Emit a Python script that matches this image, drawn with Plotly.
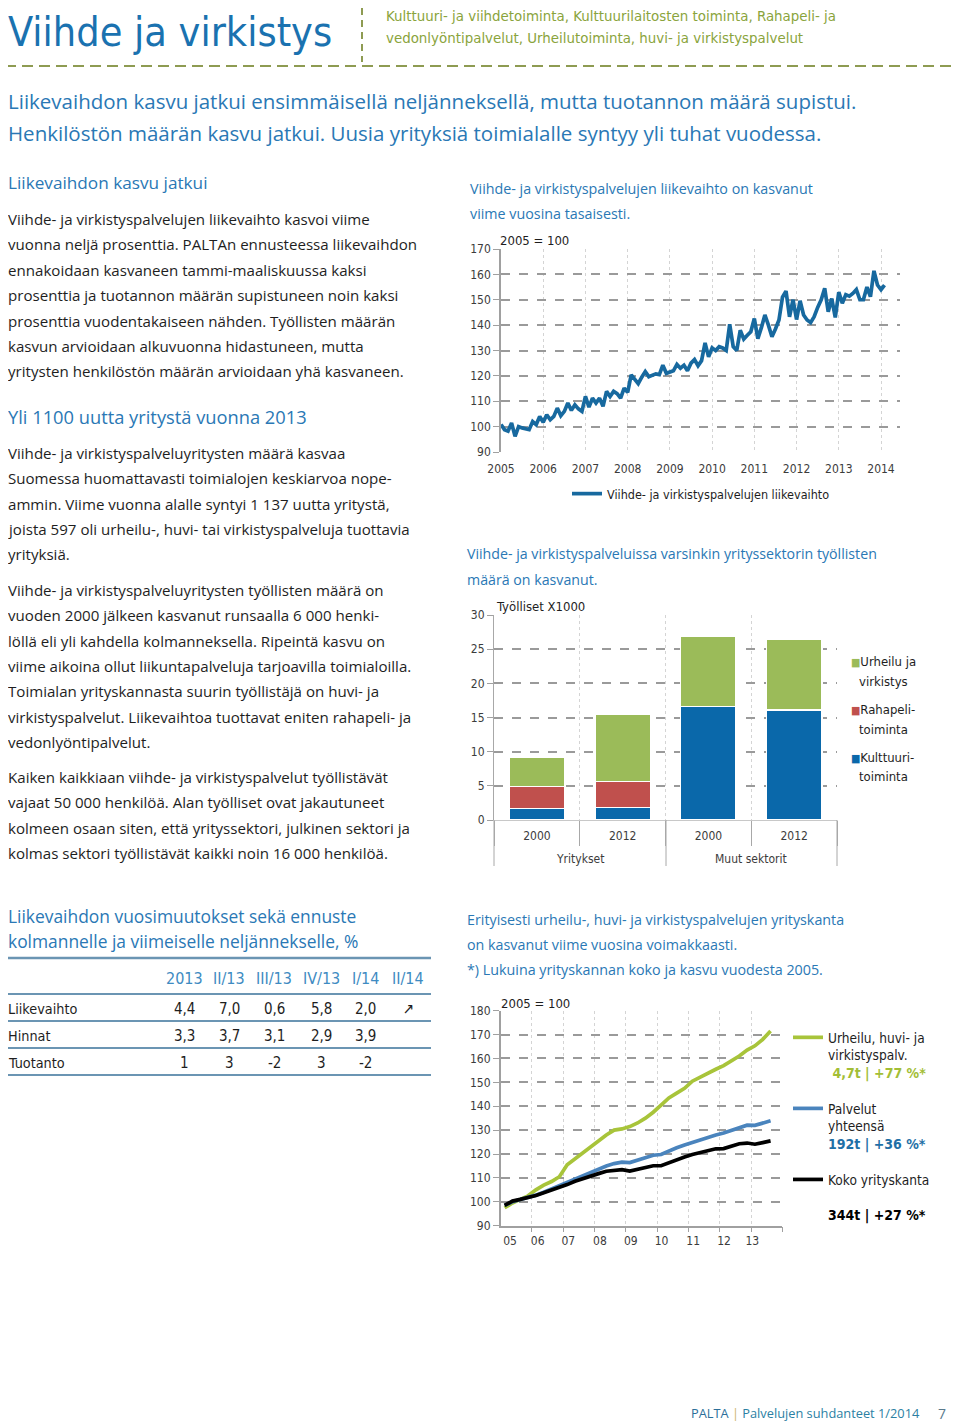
import plotly.graph_objects as go

W, H = 960, 1426
OX, OY = 8, 8  # page offset of the figure inside the browser window

# ---------------- Chart 1: monthly turnover index (2005 = 100) ----------------
lv_2005 = [100.8, 98.8, 98.2, 101.4, 96.2, 100.0, 99.5, 99.0, 98.8, 102.0, 100.8, 104.0]
lv_2006 = [101.7, 104.7, 102.7, 104.0, 107.3, 104.3, 106.0, 109.3, 106.4, 108.6, 107.0, 106.0]
lv_2007 = [111.9, 107.7, 111.2, 109.3, 111.2, 108.0, 113.9, 111.9, 113.9, 113.0, 111.2, 115.2]
lv_2008 = [113.5, 120.4, 118.5, 116.9, 119.5, 121.7, 119.7, 120.3, 120.8, 120.5, 124.2, 121.0]
lv_2009 = [121.5, 122.0, 124.5, 123.0, 124.2, 122.0, 125.0, 126.4, 124.0, 126.0, 133.0, 127.5]
lv_2010 = [131.0, 130.0, 131.5, 131.0, 130.0, 140.3, 131.5, 130.0, 138.0, 134.5, 136.0, 137.4]
lv_2011 = [142.6, 134.7, 139.0, 144.0, 140.0, 135.4, 138.5, 142.0, 151.0, 153.4, 143.3, 150.0]
lv_2012 = [142.2, 149.6, 144.0, 142.0, 141.0, 143.3, 147.0, 150.0, 154.5, 145.3, 150.5, 143.0]
lv_2013 = [153.0, 148.6, 152.0, 151.4, 152.5, 154.0, 150.0, 150.0, 155.0, 151.2, 161.4, 155.8]
lv_2014 = [154.0, 155.8]
liikevaihto = lv_2005 + lv_2006 + lv_2007 + lv_2008 + lv_2009 + lv_2010 + lv_2011 + lv_2012 + lv_2013 + lv_2014
years1 = list(range(2005, 2015))
x1 = [2005 + i / 12 for i in range(len(liikevaihto))]

# ---------------- Chart 2: employed persons x1000 ----------------
sectors = ["Yritykset", "Yritykset", "Muut sektorit", "Muut sektorit"]
bar_years = ["2000", "2012", "2000", "2012"]
kulttuuri = [1.7, 1.8, 16.6, 16.1]
rahapeli = [3.2, 3.8, 0.0, 0.0]
urheilu = [4.3, 9.9, 10.3, 10.3]
bar_cats = [f"{s} {y}" for s, y in zip(sectors, bar_years)]

# ---------------- Chart 3: number of enterprises (2005 = 100), quarterly ----------------
urheilu_idx = [97.5, 99.5, 101.0, 102.5, 105.0, 107.0, 108.5, 110.5, 115.5, 118.0, 120.5, 123.0,
               125.5, 128.0, 130.0, 130.5, 131.5, 133.0, 135.0, 137.5, 140.5, 143.5, 145.5, 147.5,
               150.5, 152.3, 153.8, 155.5, 157.0, 158.8, 161.0, 163.5, 165.3, 168.0, 171.5]
palvelut_idx = [98.5, 100.0, 101.0, 101.8, 102.8, 104.0, 105.4, 106.6, 108.1, 109.6, 110.9, 112.0,
                113.4, 115.0, 116.0, 116.6, 116.4, 117.3, 118.3, 119.5, 119.8, 121.3, 122.6, 123.8,
                124.9, 126.0, 127.1, 128.0, 128.8, 129.8, 131.0, 132.1, 132.0, 133.0, 133.9]
koko_idx = [98.5, 100.3, 101.0, 101.7, 102.6, 103.8, 104.9, 106.0, 107.2, 108.6, 109.8, 110.7,
            111.8, 112.8, 113.3, 113.5, 112.9, 113.6, 114.4, 115.1, 115.1, 116.4, 117.6, 118.8,
            119.8, 120.6, 121.5, 122.2, 122.3, 123.3, 124.3, 124.6, 124.1, 124.8, 125.5]
x3 = [2005.125 + 0.25 * i for i in range(len(urheilu_idx))]
x3_labels = ["05", "06", "07", "08", "09", "10", "11", "12", "13"]

# ---------------- Table ----------------
tab_cols = ["2013", "II/13", "III/13", "IV/13", "I/14", "II/14"]
tab_rows = ["Liikevaihto", "Hinnat", "Tuotanto"]
tab_liikevaihto = ["4,4", "7,0", "0,6", "5,8", "2,0", "↗"]
tab_hinnat = ["3,3", "3,7", "3,1", "2,9", "3,9", ""]
tab_tuotanto = ["1", "3", "-2", "3", "-2", ""]
tab_values = [tab_liikevaihto, tab_hinnat, tab_tuotanto]

# ---------------- styles ----------------
BODY = "'Open Sans', sans-serif"
COND = "'DejaVu Sans Condensed', 'Open Sans', sans-serif"
BLUE_T = "#2a78b5"
TXT = "#1e1e1e"
OLIVE = "#8e9b52"
C_LINE1 = "#17699f"
C_BLUE = "#0a68aa"
C_GREEN = "#9bbb59"
C_RED = "#c0504d"
C_G3 = "#a8c43a"
C_B3 = "#4a84bd"
TICK = dict(size=12, color="#3c3c3c", family=COND)
LX = 6  # left column text anchor


def dx(px):
    return (px - OX) / W


def dy(py):
    return 1 - (py - OY) / H


fig = go.Figure()

# Chart 1
fig.add_trace(go.Scatter(x=x1, y=liikevaihto, mode="lines", name="Viihde- ja virkistyspalvelujen liikevaihto",
                         line=dict(color=C_LINE1, width=3.7), xaxis="x", yaxis="y", legend="legend"))

# Chart 2
for vals, col, nm in [(kulttuuri, C_BLUE, "Kulttuuritoiminta"), (rahapeli, C_RED, "Rahapelitoiminta"),
                      (urheilu, C_GREEN, "Urheilu ja virkistys")]:
    fig.add_trace(go.Bar(x=bar_cats, y=vals, name=nm,
                         marker=dict(color=col, line=dict(color="white", width=1.5)),
                         width=0.65, xaxis="x2", yaxis="y2", showlegend=False))

# Chart 3
ST = "font-size:14px"
fig.add_trace(go.Scatter(x=x3, y=urheilu_idx, mode="lines", line=dict(color=C_G3, width=3.7), xaxis="x3", yaxis="y3",
                         legend="legend3", legendgroup="a",
                         name=f"Urheilu, huvi- ja<br>virkistyspalv.<br><span style='{ST};color:#a3be36'><b>\u00a04,7t | +77 %*</b></span>"))
fig.add_trace(go.Scatter(x=x3, y=palvelut_idx, mode="lines", line=dict(color=C_B3, width=3.7), xaxis="x3", yaxis="y3",
                         legend="legend3", legendgroup="b",
                         name=f"Palvelut<br>yhteensä<br><span style='{ST};color:#1f70a6'><b>192t | +36 %*</b></span>"))
fig.add_trace(go.Scatter(x=x3, y=koko_idx, mode="lines", line=dict(color="#000000", width=3.7), xaxis="x3", yaxis="y3",
                         legend="legend3", legendgroup="c",
                         name=f"Koko yrityskanta<br><span style='{ST}'>\u00a0</span><br><span style='{ST};color:#000'><b>344t | +27 %*</b></span>"))

fig.update_layout(
    template="none",
    width=W, height=H, margin=dict(l=0, r=0, t=0, b=0, autoexpand=False), paper_bgcolor="white", plot_bgcolor="white",
    barmode="stack", font=dict(family=BODY, color=TXT),
    xaxis=dict(domain=[dx(501), dx(900)], range=[2005, 2014.45], anchor="y", tickvals=years1, tickfont=TICK,
               showgrid=True, gridcolor="#d4d4d4", griddash="dot", zeroline=False, showline=True,
               linecolor="white", linewidth=3, ticks="", ticklabelstandoff=4),
    yaxis=dict(domain=[dy(452), dy(249)], range=[90, 170], dtick=10, anchor="x", tickfont=TICK,
               gridcolor="#9a9a9a", griddash="dash", gridwidth=1.5, zeroline=False, showline=True,
               linecolor="#a0a0a0", linewidth=1.5, ticks="outside", ticklen=6, tickcolor="#a0a0a0"),
    xaxis2=dict(domain=[dx(494), dx(837)], anchor="y2", type="category", tickfont=TICK,
                tickvals=bar_cats, ticktext=bar_years,
                tickson="boundaries", ticks="outside", ticklen=25, tickcolor="#a8a8a8", ticklabelstandoff=5,
                showgrid=True, gridcolor="#d4d4d4", griddash="dot", showline=True, linecolor="#c8c8c8"),
    yaxis2=dict(domain=[dy(820), dy(615)], range=[0, 30], dtick=5, anchor="x2", tickfont=TICK,
                gridcolor="#9a9a9a", griddash="dash", gridwidth=1.5, zeroline=False, showline=True,
                linecolor="#a8a8a8", linewidth=1, ticks="outside", ticklen=6, tickcolor="#a0a0a0"),
    xaxis3=dict(domain=[dx(500.7), dx(782.3)], range=[2005, 2014], anchor="y3",
                tickvals=[2005.3, 2006.18, 2007.16, 2008.17, 2009.16, 2010.14, 2011.15, 2012.14, 2013.04],
                ticktext=x3_labels, tickfont=TICK, showgrid=False, ticks="", zeroline=False, ticklabelstandoff=3,
                showline=True, linecolor="#a0a0a0", linewidth=1.5,
                minor=dict(tickvals=years1[1:], showgrid=True, gridcolor="#d4d4d4", griddash="dot",
                           ticks="outside", ticklen=5, tickcolor="#a0a0a0")),
    yaxis3=dict(domain=[dy(1225.7), dy(1010.7)], range=[90, 180], dtick=10, anchor="x3", tickfont=TICK,
                gridcolor="#9a9a9a", griddash="dash", gridwidth=1.5, zeroline=False, showline=True,
                linecolor="#a0a0a0", linewidth=1.5, ticks="outside", ticklen=6, tickcolor="#a0a0a0"),
    legend=dict(x=dx(567), y=dy(494), xanchor="left", yanchor="middle", font=dict(size=12.5, color=TXT, family=COND),
                bgcolor="rgba(0,0,0,0)", itemwidth=30),
    legend3=dict(x=dx(788), y=dy(1022), xanchor="left", yanchor="top", font=dict(size=13.6, color=TXT, family=COND),
                 bgcolor="rgba(0,0,0,0)", itemwidth=30, valign="top", tracegroupgap=15),
)


def txt(x, y, s, size=15, color=TXT, family=BODY, xanchor="left"):
    fig.add_annotation(x=dx(x), y=dy(y), xref="paper", yref="paper", text=s, showarrow=False,
                       xanchor=xanchor, yanchor="middle", align="left",
                       font=dict(size=size, color=color, family=family))


def vline(x, y0, y1, color, width=1, dash="solid"):
    fig.add_shape(type="line", xref="paper", yref="paper", x0=dx(x), x1=dx(x), y0=dy(y0), y1=dy(y1),
                  line=dict(color=color, width=width, dash=dash))


# ---------------- header ----------------
txt(LX, 32, "Viihde ja virkistys", size=41, color="#1a72b0", family=COND)
txt(384, 16, "Kulttuuri- ja viihdetoiminta, Kulttuurilaitosten toiminta, Rahapeli- ja", size=14.9, color="#8aa43c", family=COND)
txt(384, 38, "vedonlyöntipalvelut, Urheilutoiminta, huvi- ja virkistyspalvelut", size=14.9, color="#8aa43c", family=COND)
vline(362, 8, 62, OLIVE, 2, "7px,5px")
fig.add_shape(type="line", xref="paper", yref="paper", x0=dx(5), x1=dx(960), y0=dy(66), y1=dy(66),
              line=dict(color=OLIVE, width=2, dash="11px,6px"))

txt(LX, 101, "Liikevaihdon kasvu jatkui ensimmäisellä neljänneksellä, mutta tuotannon määrä supistui.", size=20.5, color=BLUE_T)
txt(LX, 133, "Henkilöstön määrän kasvu jatkui. Uusia yrityksiä toimialalle syntyy yli tuhat vuodessa.", size=20.5, color=BLUE_T)

# ---------------- left column ----------------
txt(LX, 183, "Liikevaihdon kasvu jatkui", size=17.2, color=BLUE_T)
body1 = ["Viihde- ja virkistyspalvelujen liikevaihto kasvoi viime",
         "vuonna neljä prosenttia. PALTAn ennusteessa liikevaihdon",
         "ennakoidaan kasvaneen tammi-maaliskuussa kaksi",
         "prosenttia ja tuotannon määrän supistuneen noin kaksi",
         "prosenttia vuodentakaiseen nähden. Työllisten määrän",
         "kasvun arvioidaan alkuvuonna hidastuneen, mutta",
         "yritysten henkilöstön määrän arvioidaan yhä kasvaneen."]
for i, s in enumerate(body1):
    txt(LX, 219 + i * 25.4, s, size=15.1)

txt(LX, 416, "Yli 1100 uutta yritystä vuonna 2013", size=18.3, color=BLUE_T)
body2 = ["Viihde- ja virkistyspalveluyritysten määrä kasvaa",
         "Suomessa huomattavasti toimialojen keskiarvoa nope-",
         "ammin. Viime vuonna alalle syntyi 1 137 uutta yritystä,",
         "joista 597 oli urheilu-, huvi- tai virkistyspalveluja tuottavia",
         "yrityksiä."]
for i, s in enumerate(body2):
    txt(LX, 453 + i * 25.3, s, size=15.1)
body3 = ["Viihde- ja virkistyspalveluyritysten työllisten määrä on",
         "vuoden 2000 jälkeen kasvanut runsaalla 6 000 henki-",
         "löllä eli yli kahdella kolmanneksella. Ripeintä kasvu on",
         "viime aikoina ollut liikuntapalveluja tarjoavilla toimialoilla.",
         "Toimialan yrityskannasta suurin työllistäjä on huvi- ja",
         "virkistyspalvelut. Liikevaihtoa tuottavat eniten rahapeli- ja",
         "vedonlyöntipalvelut."]
for i, s in enumerate(body3):
    txt(LX, 590 + i * 25.3, s, size=15.1)
body4 = ["Kaiken kaikkiaan viihde- ja virkistyspalvelut työllistävät",
         "vajaat 50 000 henkilöä. Alan työlliset ovat jakautuneet",
         "kolmeen osaan siten, että yrityssektori, julkinen sektori ja",
         "kolmas sektori työllistävät kaikki noin 16 000 henkilöä."]
for i, s in enumerate(body4):
    txt(LX, 777 + i * 25.3, s, size=15.1)

# ---------------- table ----------------
txt(LX, 916, "Liikevaihdon vuosimuutokset sekä ennuste", size=17.4, color=BLUE_T)
txt(LX, 941, "kolmannelle ja viimeiselle neljännekselle, %", size=17.4, color=BLUE_T)
for yy, wd in [(958, 2.5), (994, 2), (1021, 2), (1048, 2), (1075, 2)]:
    fig.add_shape(type="line", xref="paper", yref="paper", x0=dx(5), x1=dx(431), y0=dy(yy), y1=dy(yy),
                  line=dict(color="#6b95b3", width=wd))
col_x = [184, 229, 274, 321, 365, 408]
for cx, c in zip(col_x, tab_cols):
    txt(cx, 978, c, size=16, color="#3e8bc2", xanchor="center", family=COND)
row_y = [1009, 1036, 1063]
for ry, rn, vals in zip(row_y, tab_rows, tab_values):
    txt(LX, ry, rn, size=14.3, family=COND)
    for cx, v in zip(col_x, vals):
        if v:
            txt(cx, ry, v, size=15, xanchor="center", family=COND)

# ---------------- right column titles ----------------
txt(468, 188, "Viihde- ja virkistyspalvelujen liikevaihto on kasvanut", size=14.3, color=BLUE_T)
txt(468, 213, "viime vuosina tasaisesti.", size=14.3, color=BLUE_T)
txt(498, 240, "2005 = 100", size=13, family=COND)

txt(465, 553, "Viihde- ja virkistyspalveluissa varsinkin yrityssektorin työllisten", size=14.2, color=BLUE_T)
txt(465, 579, "määrä on kasvanut.", size=14.2, color=BLUE_T)
txt(494, 606, "Työlliset X1000", size=13, family=COND)
# category group dividers and labels of the bar chart
for xx in (494, 666, 837):
    vline(xx, 820, 866, "#a8a8a8", 1)
txt(580, 859, "Yritykset", size=12, family=COND, color="#3c3c3c", xanchor="center")
txt(751, 859, "Muut sektorit", size=12, family=COND, color="#3c3c3c", xanchor="center")
# bar legend
for yy, col, l1, l2 in [(662, C_GREEN, "Urheilu ja", "virkistys"), (710, C_RED, "Rahapeli-", "toiminta"),
                        (757, C_BLUE, "Kulttuuri-", "toiminta")]:
    txt(849, yy, f"<span style='color:{col};font-size:11px'>■</span>{l1}", size=13, family=COND)
    txt(857, yy + 19, l2, size=13, family=COND)

txt(465, 919, "Erityisesti urheilu-, huvi- ja virkistyspalvelujen yrityskanta", size=14.3, color=BLUE_T)
txt(465, 944, "on kasvanut viime vuosina voimakkaasti.", size=14.3, color=BLUE_T)
txt(465, 969, "*) Lukuina yrityskannan koko ja kasvu vuodesta 2005.", size=14.3, color=BLUE_T)
txt(499, 1003, "2005 = 100", size=13, family=COND)

# ---------------- footer ----------------
txt(689, 1413, "<span style='color:#2c6f9a'>PALTA</span> <span style='color:#cdb36a'>|</span> "
               "<span style='color:#2c7fa3'>Palvelujen suhdanteet 1/2014</span>", size=12.8)
txt(948, 1413, "7", size=14, color="#5a7a8c", xanchor="right")

fig.write_html("out.html")
